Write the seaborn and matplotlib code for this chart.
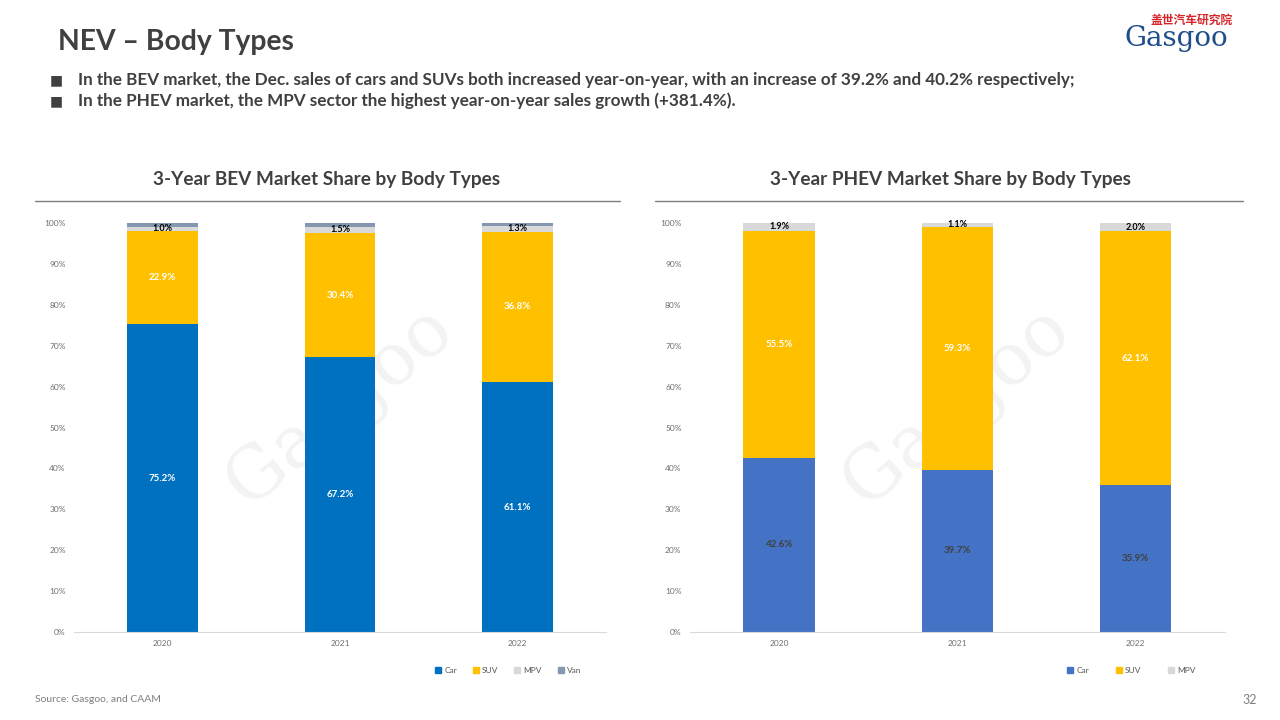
import numpy as np
import pandas as pd
import matplotlib
matplotlib.use("Agg")
import matplotlib.pyplot as plt
from matplotlib.patches import Patch
import seaborn as sns

# data
years = ["2020", "2021", "2022"]

bev_types = ["Car", "SUV", "MPV", "Van"]
bev_car = [75.2, 67.2, 61.1]
bev_suv = [22.9, 30.4, 36.8]
bev_mpv = [1.0, 1.5, 1.3]
bev_van = [0.9, 0.9, 0.8]

phev_types = ["Car", "SUV", "MPV"]
phev_car = [42.6, 39.7, 35.9]
phev_suv = [55.5, 59.3, 62.1]
phev_mpv = [1.9, 1.1, 2.0]

bev_colors = ["#0070C0", "#FFC000", "#D9D9D9", "#8497B0"]
phev_colors = ["#4472C4", "#FFC000", "#D9D9D9"]
# label colours per segment (None = no label)
bev_label_colors = ["white", "white", "black", None]
phev_label_colors = ["#404040", "white", "black"]

sns.set_style("white")
plt.rcParams["font.family"] = ["Lato", "DejaVu Sans"]

fig = plt.figure(figsize=(12.8, 7.2), dpi=100)
dark = "#404040"


def stacked(ax, series, types, colors, label_colors, leg_right, leg_space):
    df = pd.DataFrame(dict(zip(types, series)), index=years)
    cum = df.cumsum(axis=1) / 100.0
    # draw from the tallest cumulative down so the lower segments sit on top
    for t, c in reversed(list(zip(types, colors))):
        sns.barplot(x=years, y=cum[t].values, color=c, width=0.4,
                    saturation=1, linewidth=0, ax=ax, zorder=2)
    # data labels in the middle of each segment
    base = np.zeros(len(years))
    for t, lc in zip(types, label_colors):
        vals = df[t].values / 100.0
        if lc is not None:
            for i, v in enumerate(vals):
                small = v < 0.05
                ax.text(i, base[i] + v / 2, f"{v*100:.1f}%", ha="center",
                        va="center", fontsize=6.5 if small else 7,
                        fontweight="bold", color=lc, zorder=5)
        base = base + vals
    ax.set_ylim(0, 1.0)
    ax.set_xlim(-0.5, 2.5)
    ax.set_yticks(np.arange(0, 1.01, 0.1))
    ax.set_yticklabels([f"{int(round(v*100))}%" for v in np.arange(0, 1.01, 0.1)])
    ax.tick_params(axis="both", labelsize=6, colors="#6F6F6F", length=0, pad=6)
    ax.set_xlabel("")
    ax.set_ylabel("")
    sns.despine(ax=ax, left=True)
    ax.spines["bottom"].set_color("#D9D9D9")
    ax.spines["bottom"].set_linewidth(0.8)
    # faint watermark
    ax.text(0.5, 0.55, "Gasgoo", transform=ax.transAxes, fontsize=52,
            color="#F3F3F3", rotation=40, ha="center", va="center",
            family="DejaVu Serif", zorder=0)
    ax.legend(handles=[Patch(color=c, label=t) for t, c in zip(types, colors)],
              loc="center right", bbox_to_anchor=(leg_right, -0.093),
              ncol=len(types), frameon=False, fontsize=6,
              handlelength=0.7, handleheight=0.7, columnspacing=leg_space,
              handletextpad=0.4, labelcolor="#595959")


ax1 = fig.add_axes([0.0578, 0.1222, 0.4156, 0.568])
stacked(ax1, [bev_car, bev_suv, bev_mpv, bev_van], bev_types, bev_colors,
        bev_label_colors, 0.968, 1.9)
ax2 = fig.add_axes([0.539, 0.1222, 0.418, 0.568])
stacked(ax2, [phev_car, phev_suv, phev_mpv], phev_types, phev_colors,
        phev_label_colors, 0.959, 3.2)

# chart titles and rules
fig.text(327 / 1280, 1 - 179 / 720, "3-Year BEV Market Share by Body Types",
         ha="center", va="center", fontsize=13.7, fontweight="bold", color=dark)
fig.text(951 / 1280, 1 - 179 / 720, "3-Year PHEV Market Share by Body Types",
         ha="center", va="center", fontsize=13.7, fontweight="bold", color=dark)
fig.add_artist(plt.Line2D([35 / 1280, 620 / 1280], [1 - 201 / 720] * 2,
                          color="#7F7F7F", lw=1))
fig.add_artist(plt.Line2D([655 / 1280, 1243 / 1280], [1 - 201 / 720] * 2,
                          color="#7F7F7F", lw=1))

# slide header
fig.text(58 / 1280, 1 - 42 / 720, "NEV – Body Types", ha="left", va="center",
         fontsize=20.3, fontweight="bold", color=dark)
bullets = [
    "In the BEV market, the Dec. sales of cars and SUVs both increased year-on-year, "
    "with an increase of 39.2% and 40.2% respectively;",
    "In the PHEV market, the MPV sector the highest year-on-year sales growth (+381.4%).",
]
for k, b in enumerate(bullets):
    y = 1 - (80 + 21 * k) / 720
    fig.text(50 / 1280, y, "■", ha="left", va="center", fontsize=10,
             color=dark, family="DejaVu Sans")
    fig.text(78 / 1280, y, b, ha="left", va="center", fontsize=12.3,
             fontweight="bold", color=dark)

# logo
fig.text(1192 / 1280, 1 - 20 / 720, "盖世汽车研究院", ha="center", va="center",
         fontsize=8.5, fontweight="bold", color="#D7262B",
         family=["Noto Sans CJK SC", "DejaVu Sans"])
fig.text(1176 / 1280, 1 - 39 / 720, "Gasgoo", ha="center", va="center",
         fontsize=20, color="#1F4E8C", family="DejaVu Serif")

# footer
fig.text(35 / 1280, 1 - 700 / 720, "Source: Gasgoo, and CAAM", ha="left",
         va="center", fontsize=7.5, color="#7F7F7F")
fig.text(1257 / 1280, 1 - 700 / 720, "32", ha="right", va="center",
         fontsize=9, color="#7F7F7F")

fig.savefig("out.png", dpi=100)
